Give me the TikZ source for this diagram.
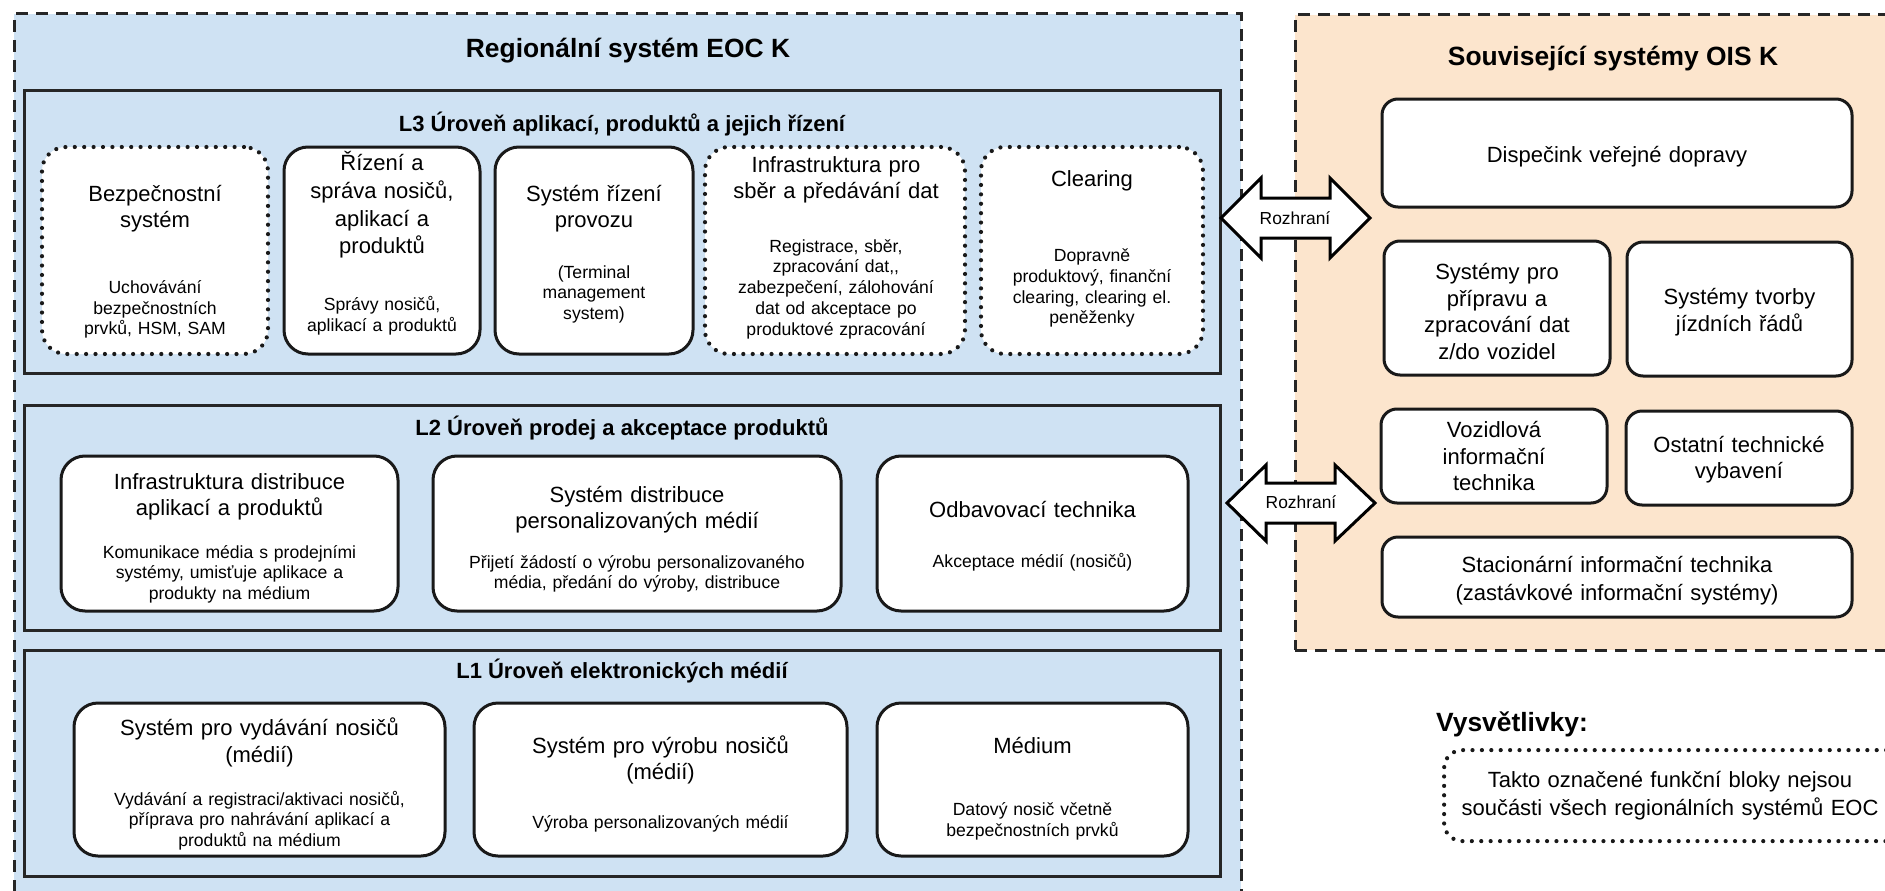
\documentclass[tikz,border=0pt]{standalone}
\usepackage{fontspec}
\setmainfont{Liberation Sans}
\definecolor{eocblue}{HTML}{CFE2F3}
\definecolor{oisorange}{HTML}{FCE5CD}
\tikzset{
  regionbox/.style={draw=black!85, line width=3pt, dash pattern=on 12pt off 8pt, inner sep=0pt, outer sep=0pt},
  levelbox/.style={draw=black!85, line width=3pt, fill=eocblue, inner sep=0pt},
  fblock/.style={draw=black!90, line width=3pt, fill=white, rounded corners=24pt, inner sep=0pt},
  optblock/.style={fblock, dash pattern=on 0pt off 9.4pt, line cap=round, line width=4.2pt},
  oisblock/.style={fblock, rounded corners=16pt},
  ttl/.style={font=\fontsize{22}{26.6}\selectfont, text width=600pt, align=center, anchor=base, inner sep=0pt},
  subt/.style={ttl, font=\fontsize{17.6}{20.7}\selectfont},
  lvltitle/.style={font=\bfseries\fontsize{22}{26}\selectfont, anchor=base, inner sep=0pt},
  systitle/.style={font=\bfseries\fontsize{26.4}{30}\selectfont, anchor=base, inner sep=0pt},
  arrowshape/.style={draw=black, line width=3pt, fill=white, line join=miter},
  arrowlabel/.style={font=\fontsize{17.4}{20}\selectfont, anchor=base, inner sep=0pt},
}
\begin{document}
\begin{tikzpicture}[x=1pt,y=-1pt]
\useasboundingbox (0,0) rectangle (1885,891);
\clip (0,0) rectangle (1885,891);

% ---- regional EOC system ----
\node[regionbox, fill=eocblue, minimum width=1227pt, minimum height=900pt, anchor=north west] (eoc) at (14,14) {};
\node[systitle] (eoctitle) at (628,57.8) {Regionální systém EOC K};

% ---- related OIS systems ----
\node[regionbox, fill=oisorange, minimum width=650pt, minimum height=635pt, anchor=north west] (ois) at (1295,15) {};
\node[systitle] (oistitle) at (1613,66) {Související systémy OIS K};

% ---- levels ----
\node[levelbox, minimum width=1196pt, minimum height=282.8pt] (l3) at (622,232.1) {};
\node[lvltitle] (l3t) at (622,131.5) {L3 Úroveň aplikací, produktů a jejich řízení};
\node[levelbox, minimum width=1196pt, minimum height=225pt] (l2) at (622,517.5) {};
\node[lvltitle] (l2t) at (622,435.3) {L2 Úroveň prodej a akceptace produktů};
\node[levelbox, minimum width=1196pt, minimum height=226.7pt] (l1) at (622,763.35) {};
\node[lvltitle] (l1t) at (622,678.3) {L1 Úroveň elektronických médií};

% ---- L3 blocks ----
\node[optblock, minimum width=226pt, minimum height=207pt] (bez) at (155,250.5) {};
\node[ttl] (bezt) at (155,201) {Bezpečnostní\\systém};
\node[subt] (bezs) at (155,293.5) {Uchovávání\\bezpečnostních\\prvků, HSM, SAM};

\node[fblock, minimum width=196pt, minimum height=207pt] (riz) at (382,250.5) {};
\node[ttl, font=\fontsize{22}{27.8}\selectfont] (rizt) at (382,170.5) {Řízení a\\správa nosičů,\\aplikací a\\produktů};
\node[subt] (rizs) at (382,310.5) {Správy nosičů,\\aplikací a produktů};

\node[fblock, minimum width=198pt, minimum height=207pt] (prov) at (594,250.5) {};
\node[ttl] (provt) at (594,201) {Systém řízení\\provozu};
\node[subt] (provs) at (594,278) {(Terminal\\management\\system)};

\node[optblock, minimum width=260pt, minimum height=207pt] (sber) at (835,250.5) {};
\node[ttl] (sbert) at (836,172) {Infrastruktura pro\\sběr a předávání dat};
\node[subt] (sbers) at (836,252.2) {Registrace, sběr,\\zpracování dat,\kern0pt,\\zabezpečení, zálohování\\dat od akceptace po\\produktové zpracování};

\node[optblock, minimum width=222pt, minimum height=207pt] (clr) at (1092,250.5) {};
\node[ttl] (clrt) at (1092,186.7) {Clearing};
\node[subt] (clrs) at (1092,261.7) {Dopravně\\produktový, finanční\\clearing, clearing el.\\peněženky};

% ---- L2 blocks ----
\node[fblock, minimum width=337pt, minimum height=155pt] (idist) at (229.5,533.5) {};
\node[ttl] (idistt) at (229.5,489) {Infrastruktura distribuce\\aplikací a produktů};
\node[subt] (idists) at (229.5,558.2) {Komunikace média s prodejními\\systémy, umisťuje aplikace a\\produkty na médium};

\node[fblock, minimum width=408pt, minimum height=155pt] (pdist) at (637,533.5) {};
\node[ttl] (pdistt) at (637,502) {Systém distribuce\\personalizovaných médií};
\node[subt] (pdists) at (637,568.2) {Přijetí žádostí o výrobu personalizovaného\\média, předání do výroby, distribuce};

\node[fblock, minimum width=311pt, minimum height=155pt] (odb) at (1032.5,533.5) {};
\node[ttl] (odbt) at (1032.5,517.7) {Odbavovací technika};
\node[subt] (odbs) at (1032.5,567.2) {Akceptace médií (nosičů)};

% ---- L1 blocks ----
\node[fblock, minimum width=371pt, minimum height=153pt] (vyd) at (259.5,779.5) {};
\node[ttl] (vydt) at (259.5,735.7) {Systém pro vydávání nosičů\\(médií)};
\node[subt] (vyds) at (259.5,805) {Vydávání a registraci/aktivaci nosičů,\\příprava pro nahrávání aplikací a\\produktů na médium};

\node[fblock, minimum width=373pt, minimum height=153pt] (vyr) at (660.5,779.5) {};
\node[ttl] (vyrt) at (660.5,753) {Systém pro výrobu nosičů\\(médií)};
\node[subt] (vyrs) at (660.5,828) {Výroba personalizovaných médií};

\node[fblock, minimum width=311pt, minimum height=153pt] (med) at (1032.5,779.5) {};
\node[ttl] (medt) at (1032.5,753) {Médium};
\node[subt] (meds) at (1032.5,815.5) {Datový nosič včetně\\bezpečnostních prvků};

% ---- OIS blocks ----
\node[oisblock, minimum width=470pt, minimum height=108pt] (disp) at (1617,153) {};
\node[ttl] (dispt) at (1617,162) {Dispečink veřejné dopravy};
\node[oisblock, minimum width=226pt, minimum height=134pt] (prip) at (1497,308) {};
\node[ttl] (pript) at (1497,279.4) {Systémy pro\\přípravu a\\zpracování dat\\z/do vozidel};
\node[oisblock, minimum width=225pt, minimum height=134pt] (jr) at (1739.5,309) {};
\node[ttl] (jrt) at (1739.5,304.7) {Systémy tvorby\\jízdních řádů};
\node[oisblock, minimum width=226pt, minimum height=94pt] (voz) at (1494,456) {};
\node[ttl] (vozt) at (1494,437.7) {Vozidlová\\informační\\technika};
\node[oisblock, minimum width=226pt, minimum height=94pt] (ost) at (1739,458) {};
\node[ttl] (ostt) at (1739,452) {Ostatní technické\\vybavení};
\node[oisblock, minimum width=470pt, minimum height=80pt] (stac) at (1617,577) {};
\node[ttl, font=\fontsize{22}{27.6}\selectfont] (stact) at (1617,572.7) {Stacionární informační technika\\(zastávkové informační systémy)};

% ---- interfaces ----
\draw[arrowshape] (1221,218) -- (1261,178) -- (1261,198) -- (1330,198) -- (1330,178)
  -- (1370,218) -- (1330,258) -- (1330,238) -- (1261,238) -- (1261,258) -- cycle;
\node[arrowlabel] (rz1) at (1295,224.5) {Rozhraní};
\draw[arrowshape] (1227,503) -- (1266,465) -- (1266,483) -- (1335,483) -- (1335,465)
  -- (1375,503) -- (1335,541) -- (1335,523) -- (1266,523) -- (1266,541) -- cycle;
\node[arrowlabel] (rz2) at (1301,508.5) {Rozhraní};

% ---- legend ----
\node[systitle, anchor=base west] (legt) at (1436,731.5) {Vysvětlivky:};
\node[optblock, rounded corners=18pt, minimum width=460pt, minimum height=91pt, anchor=north west] (leg) at (1442,748) {};
\node[ttl, font=\fontsize{22}{28}\selectfont] (legs) at (1670,787.3) {Takto označené funkční bloky nejsou\\součásti všech regionálních systémů EOC};
\end{tikzpicture}
\end{document}
